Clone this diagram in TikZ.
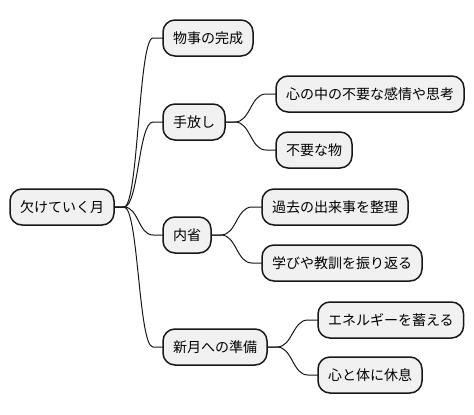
\documentclass[tikz,border=0pt]{standalone}
\usepackage{fontspec}
\setmainfont{Noto Sans CJK JP}
\usetikzlibrary{calc}
\definecolor{boxfill}{HTML}{F1F1F1}
\definecolor{boxline}{HTML}{181818}
\tikzset{
  mmbox/.style={draw=boxline, fill=boxfill, line width=1.5pt, rounded corners=12pt,
    inner xsep=10pt, inner ysep=0pt, minimum height=36pt, outer sep=0pt, anchor=west,
    font=\fontsize{14pt}{16pt}\selectfont, text=black},
  mmline/.style={draw=boxline, line width=1pt}
}
\newcommand\mmconn[2]{%
  \path (#1.east) ++(10pt,0) coordinate (s);
  \path ($(#2.west)+(-10pt,0)$) coordinate (e);
  \path ($(s)!0.5!(e)$) coordinate (m);
  \draw[mmline] (#1.east) -- (s) .. controls (m |- s) and (m |- e) .. (e) -- (#2.west);
}
\begin{document}
\begin{tikzpicture}[x=1pt,y=-1pt]
\useasboundingbox[fill=white] (0,0) rectangle (474,415);
\node[mmbox] (r) at (10,207) {欠けていく月};
\node[mmbox] (a) at (163,38) {物事の完成};
\node[mmbox] (b) at (163,122) {手放し};
\node[mmbox] (b1) at (276,94) {心の中の不要な感情や思考};
\node[mmbox] (b2) at (276,150) {不要な物};
\node[mmbox] (c) at (163,235) {内省};
\node[mmbox] (c1) at (262,207) {過去の出来事を整理};
\node[mmbox] (c2) at (262,263) {学びや教訓を振り返る};
\node[mmbox] (d) at (163,347) {新月への準備};
\node[mmbox] (d1) at (318,320) {エネルギーを蓄える};
\node[mmbox] (d2) at (318,375) {心と体に休息};
\mmconn{r}{a}
\mmconn{r}{b}
\mmconn{r}{c}
\mmconn{r}{d}
\mmconn{b}{b1}
\mmconn{b}{b2}
\mmconn{c}{c1}
\mmconn{c}{c2}
\mmconn{d}{d1}
\mmconn{d}{d2}
\end{tikzpicture}
\end{document}
